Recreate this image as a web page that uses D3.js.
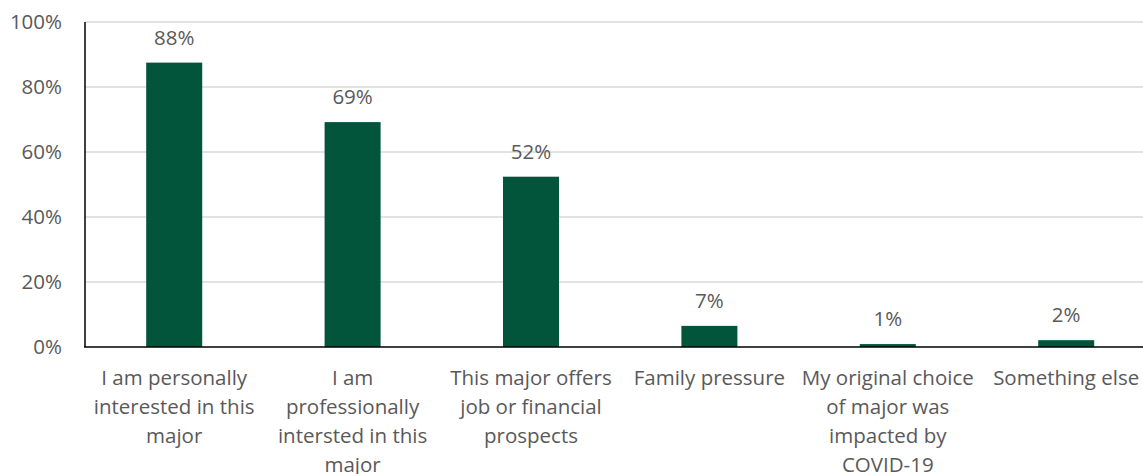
<!DOCTYPE html>
<html>
<head>
<meta charset="utf-8">
<script src="https://cdn.jsdelivr.net/npm/d3@7"></script>
<style>
    body { margin: 0; background: #fff; }
    svg text { font-family: "Open Sans", "Noto Sans", sans-serif; fill: #595959; }
</style>
</head>
<body>
<div class="js-chart"></div>
<script>
'use strict';

//chart data
var categories = [
    'I am personally interested in this major',
    'I am professionally intersted in this major',
    'This major offers job or financial prospects',
    'Family pressure',
    'My original choice of major was impacted by COVID-19',
    'Something else'
];
//how the category labels break into lines
var categoryLines = [
    ['I am personally', 'interested in this', 'major'],
    ['I am', 'professionally', 'intersted in this', 'major'],
    ['This major offers', 'job or financial', 'prospects'],
    ['Family pressure'],
    ['My original choice', 'of major was', 'impacted by', 'COVID-19'],
    ['Something else']
];
var values = [0.875, 0.692, 0.524, 0.065, 0.009, 0.021];
var yTicks = [0, 0.2, 0.4, 0.6, 0.8, 1];

var dim = { w: 1143, h: 474 };
var margin = { top: 22, left: 85, bottom: 127 };
var fontSize = '20.5px';

var svg = d3.select('.js-chart').append('svg')
    .attr('width', dim.w)
    .attr('height', dim.h);

//band step ~178px, the plot runs a little past the right edge
var x = d3.scaleBand()
    .domain(categories)
    .range([margin.left, margin.left + 6 * 178.4])
    .paddingInner(0.686)
    .paddingOuter(0.343);

var y = d3.scaleLinear()
    .domain([0, 1])
    .range([dim.h - margin.bottom, margin.top]);

//gridlines
svg.selectAll('.grid').data(yTicks.slice(1)).enter().append('line')
    .attr('x1', margin.left)
    .attr('x2', dim.w)
    .attr('y1', function (d) { return y(d); })
    .attr('y2', function (d) { return y(d); })
    .style('stroke', '#d9d9d9')
    .style('stroke-width', 1.3);

//y tick labels
svg.selectAll('.ytick').data(yTicks).enter().append('text')
    .attr('x', 62)
    .attr('y', function (d) { return y(d); })
    .attr('dy', '0.35em')
    .attr('text-anchor', 'end')
    .style('font-size', fontSize)
    .text(d3.format('.0%'));

//bars
svg.selectAll('.bar').data(values).enter().append('rect')
    .attr('x', function (d, i) { return x(categories[i]); })
    .attr('y', function (d) { return y(d); })
    .attr('width', x.bandwidth())
    .attr('height', function (d) { return y(0) - y(d); })
    .style('fill', '#02553b');

//value labels
svg.selectAll('.val').data(values).enter().append('text')
    .attr('x', function (d, i) { return x(categories[i]) + x.bandwidth() / 2; })
    .attr('y', function (d) { return y(d) - 18; })
    .attr('text-anchor', 'middle')
    .style('font-size', fontSize)
    .text(d3.format('.0%'));

//axis lines
svg.append('line')
    .attr('x1', margin.left).attr('x2', margin.left)
    .attr('y1', y(1)).attr('y2', y(0))
    .style('stroke', '#000').style('stroke-width', 1.5);
svg.append('line')
    .attr('x1', margin.left - 1).attr('x2', dim.w)
    .attr('y1', y(0)).attr('y2', y(0))
    .style('stroke', '#000').style('stroke-width', 1.5);

//category labels (last lines run off the bottom as in the original)
svg.selectAll('.cat').data(categories).enter().append('text')
    .attr('text-anchor', 'middle')
    .style('font-size', fontSize)
    .each(function (d, i) {
        var t = d3.select(this);
        categoryLines[i].forEach(function (line, j) {
            t.append('tspan')
                .attr('x', x(d) + x.bandwidth() / 2)
                .attr('y', 385 + j * 28.9)
                .text(line);
        });
    });
</script>
</body>
</html>
